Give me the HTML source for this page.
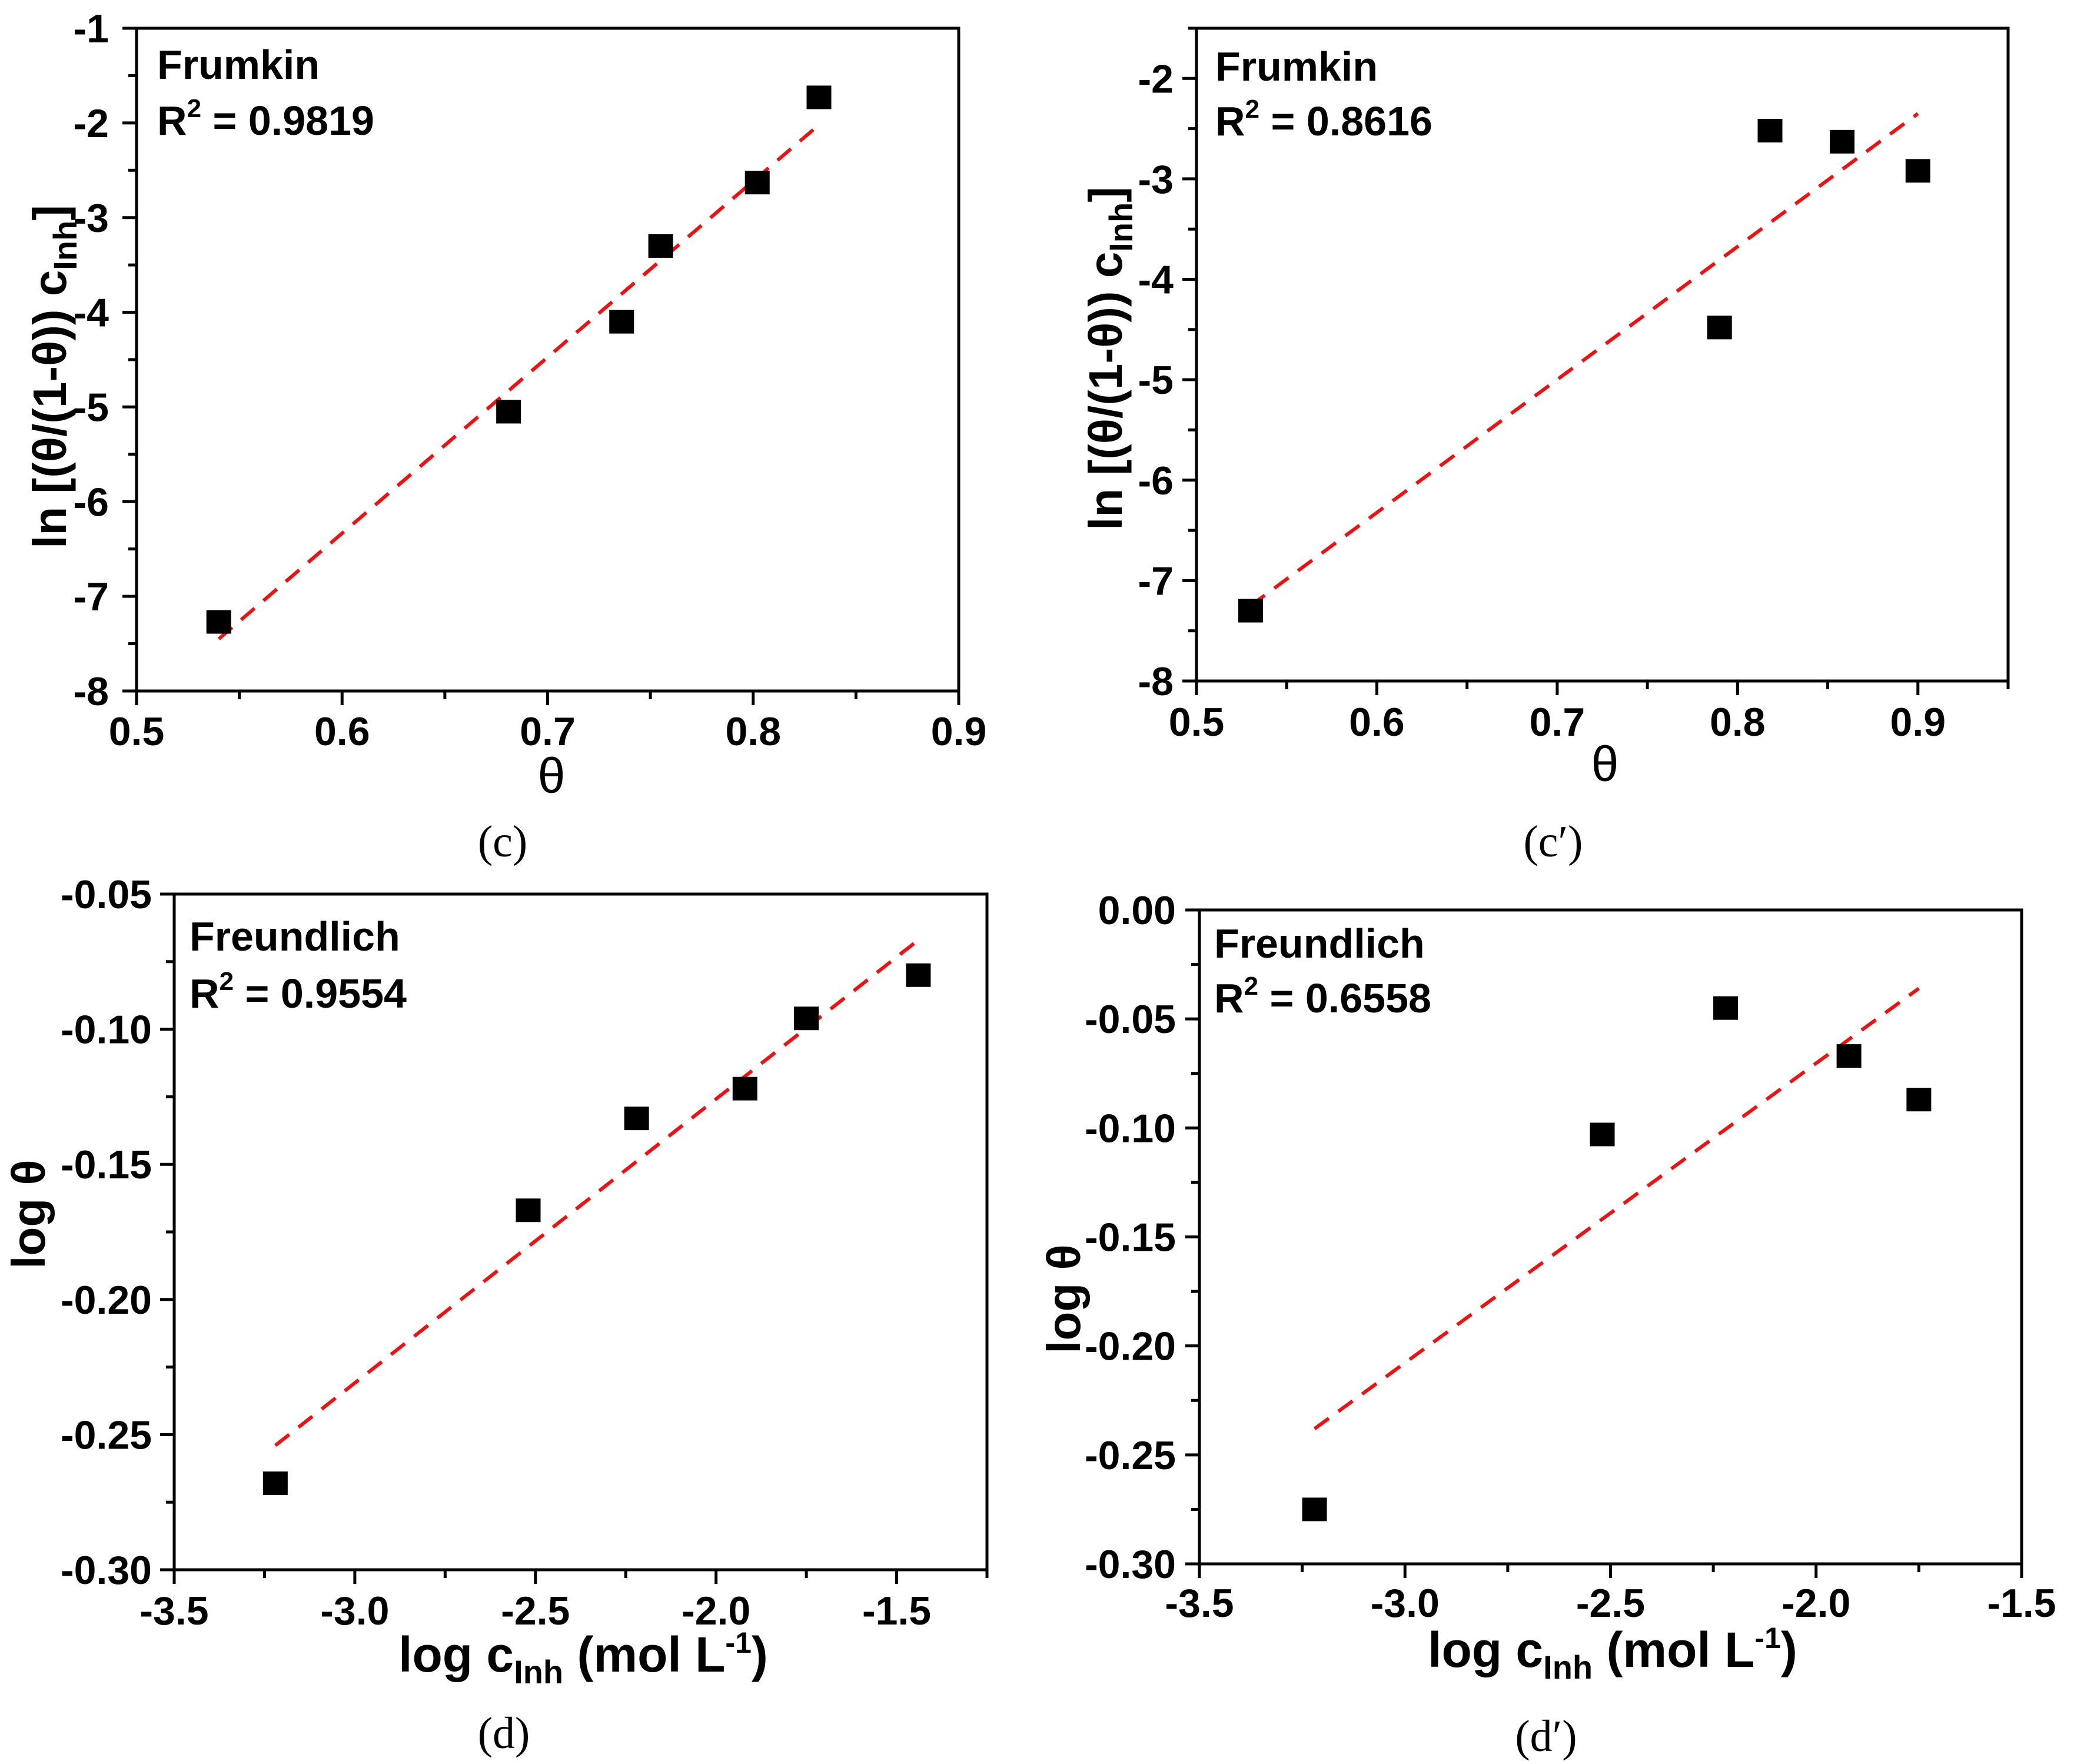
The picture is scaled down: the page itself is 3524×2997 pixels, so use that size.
<!DOCTYPE html>
<html><head><meta charset="utf-8"><style>
html,body{margin:0;padding:0;background:#fff;}
svg{display:block;font-family:"Liberation Sans",Arial,sans-serif;}
</style></head><body>
<svg id="fig" width="3524" height="2997" viewBox="0 0 3524 2997" xmlns="http://www.w3.org/2000/svg"></svg>
<script>
// Panel c data
const cX = [0.54, 0.681, 0.736, 0.755, 0.802, 0.832];
const cY = [-7.27, -5.05, -4.10, -3.30, -2.63, -1.73];
const cFitX = [0.54, 0.832];
const cFitY = [-7.45, -2.02];
const cXTicks = [0.5, 0.6, 0.7, 0.8, 0.9];
const cYTicks = [-8, -7, -6, -5, -4, -3, -2, -1];
// Panel c' data
const cpX = [0.53, 0.79, 0.818, 0.858, 0.90];
const cpY = [-7.30, -4.48, -2.52, -2.63, -2.92];
const cpFitX = [0.53, 0.90];
const cpFitY = [-7.25, -2.35];
const cpXTicks = [0.5, 0.6, 0.7, 0.8, 0.9];
const cpYTicks = [-8, -7, -6, -5, -4, -3, -2];
// Panel d data
const dX = [-3.22, -2.52, -2.22, -1.92, -1.75, -1.44];
const dY = [-0.268, -0.167, -0.133, -0.122, -0.096, -0.080];
const dFitX = [-3.22, -1.44];
const dFitY = [-0.254, -0.067];
const dXTicks = [-3.5, -3.0, -2.5, -2.0, -1.5];
const dYTicks = [-0.30, -0.25, -0.20, -0.15, -0.10, -0.05];
// Panel d' data
const dpX = [-3.22, -2.52, -2.22, -1.92, -1.75];
const dpY = [-0.275, -0.103, -0.045, -0.067, -0.087];
const dpFitX = [-3.22, -1.75];
const dpFitY = [-0.238, -0.036];
const dpXTicks = [-3.5, -3.0, -2.5, -2.0, -1.5];
const dpYTicks = [-0.30, -0.25, -0.20, -0.15, -0.10, -0.05, 0.00];

const NS = "http://www.w3.org/2000/svg";
const svg = document.getElementById('fig');
function mk(tag, attrs, parent){
  const e = document.createElementNS(NS, tag);
  for (const k in attrs) e.setAttribute(k, attrs[k]);
  (parent||svg).appendChild(e);
  return e;
}

function panel(o){
  const g = mk('g', {});
  
  
  const sx = v => o.L + (v - o.x0) / (o.x1 - o.x0) * (o.R - o.L);
  const sy = v => o.B - (v - o.y0) / (o.y1 - o.y0) * (o.B - o.T);
  const fr = mk('rect', {x:o.L, y:o.T, width:o.R-o.L, height:o.B-o.T, fill:'none', stroke:'#000', 'stroke-width':5}, g);
  
  
  const xs = o.xTicks[1]-o.xTicks[0];
  for (let v = o.x0; v <= o.x1 + 1e-9; v += xs/2){
    const major = o.xTicks.some(t => Math.abs(t - v) < 1e-6);
    const t = mk('line', {x1:sx(v), x2:sx(v), y1:o.B, y2:o.B + (major?24:14), stroke:'#000', 'stroke-width':5}, g);
    
    
  }
  o.xTicks.forEach(v => {
    const t = mk('text', {x:sx(v), y:o.xLabY, 'text-anchor':'middle', 'font-size':68, 'font-weight':'bold'}, g);
    t.textContent = o.xFmt(v);
    
    
  });
  const ys = o.yTicks[1]-o.yTicks[0];
  for (let v = o.y0; v <= o.y1 + 1e-9; v += ys/2){
    const major = o.yTicks.some(t => Math.abs(t - v) < 1e-6);
    const t = mk('line', {x1:o.L - (major?24:14), x2:o.L, y1:sy(v), y2:sy(v), stroke:'#000', 'stroke-width':5}, g);
    
    
  }
  o.yTicks.forEach(v => {
    const t = mk('text', {x:o.yLabX, y:sy(v)+24, 'text-anchor':'end', 'font-size':68, 'font-weight':'bold'}, g);
    t.textContent = o.yFmt(v);
    
    
  });
  const fl = mk('line', {x1:sx(o.fitX[0]), y1:sy(o.fitY[0]), x2:sx(o.fitX[1]), y2:sy(o.fitY[1]), stroke:'#ee1111', 'stroke-width':6, 'stroke-dasharray':'30 20'}, g);
  
  
  o.xs.forEach((xv, i) => {
    const p = mk('rect', {x:sx(xv)-21, y:sy(o.ys[i])-20, width:42, height:40, fill:'#000'}, g);
    
    
  });
  const a1 = mk('text', {x:o.annX, y:o.annY1, 'font-size':70, 'font-weight':'bold'}, g);
  a1.textContent = o.model;
  
  
  const a2 = mk('text', {x:o.annX, y:o.annY2, 'font-size':70, 'font-weight':'bold'}, g);
  a2.innerHTML = 'R<tspan dy="-30" font-size="44">2</tspan><tspan dy="30"> = ' + o.r2 + '</tspan>';
  
  
  const xt = mk('text', {x:o.xtX, y:o.xtY, 'text-anchor':'middle', 'font-size':84, 'font-weight':o.xtBold?'bold':'normal'}, g);
  xt.innerHTML = o.xTitle;
  
  
  const yt = mk('text', {x:0, y:0, 'text-anchor':'middle', 'font-size':80, 'font-weight':'bold', transform:'translate('+o.ytX+','+o.ytY+') rotate(-90)'}, g);
  yt.innerHTML = o.yTitle;
  
  
  const cap = mk('text', {x:o.capX, y:o.capY, 'text-anchor':'middle', 'font-size':76, 'font-family':'Liberation Serif, serif'}, g);
  cap.textContent = o.cap;
  
  
}

const intF = v => String(Math.round(v));
const f1 = v => v.toFixed(1);
const f2 = v => v.toFixed(2);
const lnTitle = 'ln [(θ/(1-θ)) c<tspan dy="18" font-size="56">Inh</tspan><tspan dy="-18">]</tspan>';
const logcTitle = 'log c<tspan dy="20" font-size="56">Inh</tspan><tspan dy="-20"> (mol L</tspan><tspan dy="-32" font-size="50">-1</tspan><tspan dy="32">)</tspan>';

panel({name:'panel-c', L:232, R:1629, T:48, B:1174, x0:0.5, x1:0.9, y0:-8, y1:-1,
  xs:cX, ys:cY, fitX:cFitX, fitY:cFitY, xTicks:cXTicks, yTicks:cYTicks, xFmt:f1, yFmt:intF,
  xLabY:1266, yLabX:185, model:'Frumkin', r2:'0.9819', annX:267, annY1:134, annY2:229,
  xTitle:'θ', xtX:937, xtY:1347, xtBold:false, yTitle:lnTitle, ytX:112, ytY:640,
  cap:'(c)', capX:854, capY:1455});

panel({name:'panel-c-prime', L:2033, R:3412, T:48, B:1157, x0:0.5, x1:0.95, y0:-8, y1:-1.5,
  xs:cpX, ys:cpY, fitX:cpFitX, fitY:cpFitY, xTicks:cpXTicks, yTicks:cpYTicks, xFmt:f1, yFmt:intF,
  xLabY:1250, yLabX:1994, model:'Frumkin', r2:'0.8616', annX:2065, annY1:137, annY2:230,
  xTitle:'θ', xtX:2727, xtY:1327, xtBold:false, yTitle:lnTitle, ytX:1906, ytY:609,
  cap:'(c′)', capX:2639, capY:1455});

panel({name:'panel-d', L:296, R:1677, T:1519, B:2667, x0:-3.5, x1:-1.25, y0:-0.30, y1:-0.05,
  xs:dX, ys:dY, fitX:dFitX, fitY:dFitY, xTicks:dXTicks, yTicks:dYTicks, xFmt:f1, yFmt:f2,
  xLabY:2760, yLabX:258, model:'Freundlich', r2:'0.9554', annX:322, annY1:1615, annY2:1712,
  xTitle:logcTitle, xtX:991, xtY:2840, xtBold:true, yTitle:'log θ', ytX:76, ytY:2063,
  cap:'(d)', capX:856, capY:2970});

panel({name:'panel-d-prime', L:2038, R:3435, T:1546, B:2657, x0:-3.5, x1:-1.5, y0:-0.30, y1:0.00,
  xs:dpX, ys:dpY, fitX:dpFitX, fitY:dpFitY, xTicks:dpXTicks, yTicks:dpYTicks, xFmt:f1, yFmt:f2,
  xLabY:2747, yLabX:1998, model:'Freundlich', r2:'0.6558', annX:2063, annY1:1627, annY2:1720,
  xTitle:logcTitle, xtX:2740, xtY:2832, xtBold:true, yTitle:'log θ', ytX:1835, ytY:2207,
  cap:'(d′)', capX:2627, capY:2975});
</script>
</body></html>
